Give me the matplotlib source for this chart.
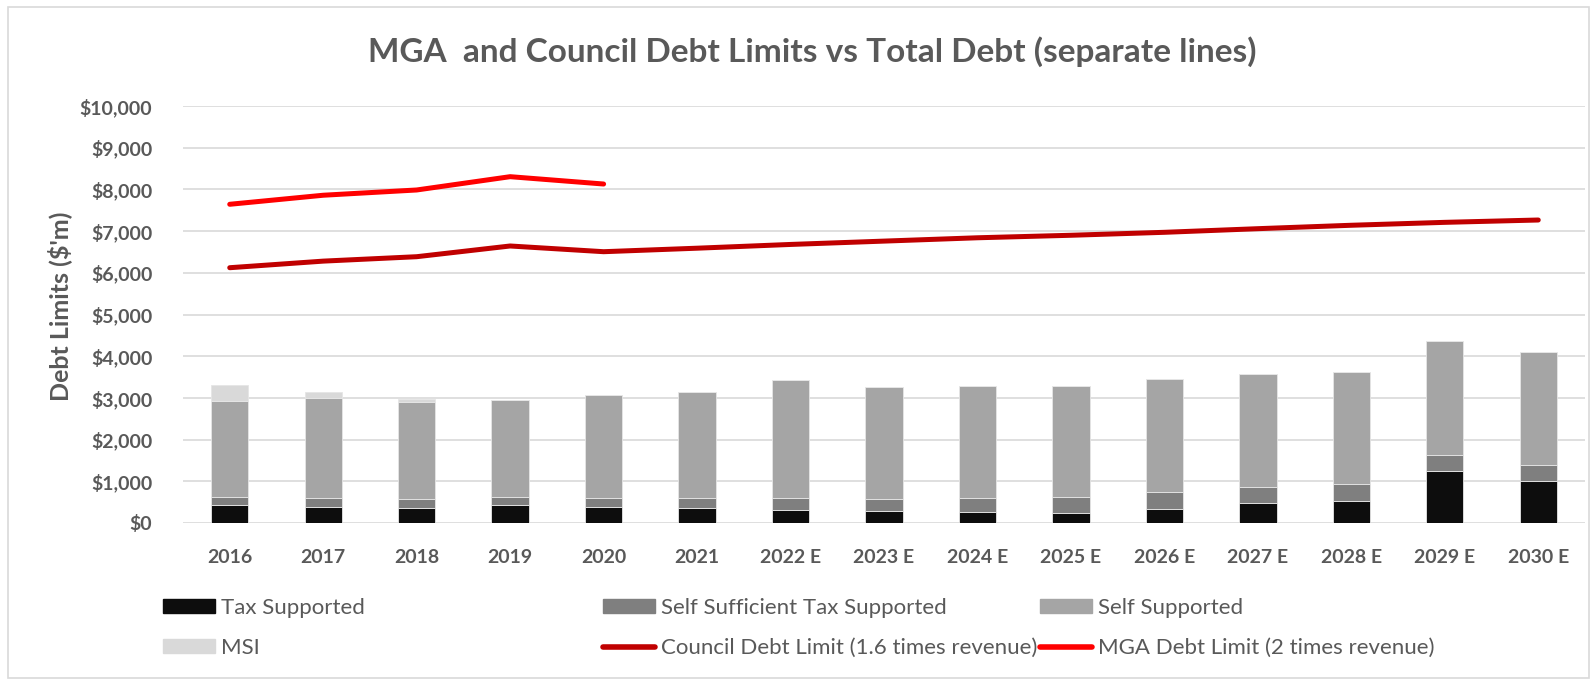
import numpy as np
import matplotlib
matplotlib.use("Agg")
import matplotlib.pyplot as plt
from matplotlib.patches import Patch, Rectangle
from matplotlib.lines import Line2D
from matplotlib.ticker import FuncFormatter

plt.rcParams['font.family'] = ['Lato', 'DejaVu Sans']

# Debt by category ($'m)
years = ['2016', '2017', '2018', '2019', '2020', '2021', '2022 E', '2023 E',
         '2024 E', '2025 E', '2026 E', '2027 E', '2028 E', '2029 E', '2030 E']
tax_supported = [430, 391, 360, 439, 391, 367, 319, 295, 271, 247, 343, 487, 535, 1254, 1014]
self_sufficient = [200, 216, 216, 192, 216, 225, 281, 281, 329, 384, 400, 384, 408, 377, 370]
self_supported = [2303, 2391, 2326, 2326, 2455, 2549, 2822, 2685, 2678, 2654, 2703, 2702, 2678, 2726, 2717]
msi = [369, 143, 72, 0, 0, 0, 0, 0, 0, 0, 0, 0, 0, 0, 0]

# Debt limits ($'m)
council_limit = [6122, 6280, 6386, 6643, 6506, 6590, 6680, 6760, 6840, 6900,
                 6971, 7058, 7140, 7210, 7266]
mga_limit = [7643, 7860, 7986, 8305, 8129]

text_grey = '#595959'
c_tax = '#0d0d0d'
c_ss = '#7f7f7f'
c_sup = '#a5a5a5'
c_msi = '#d9d9d9'
c_council = '#c00000'
c_mga = '#ff0000'

W, H = 1595, 681
fig = plt.figure(figsize=(W / 100, H / 100), dpi=100)
ax = fig.add_axes([183 / W, 158 / H, 1402 / W, 417 / H])

x = np.arange(len(years))
bw = 0.4
bottom = np.zeros(len(years))
for vals, col in [(tax_supported, c_tax), (self_sufficient, c_ss),
                  (self_supported, c_sup), (msi, c_msi)]:
    ax.bar(x, vals, bw, bottom=bottom, color=col, edgecolor='#e6e6e6',
           linewidth=0.6, zorder=2)
    bottom += np.array(vals)

ax.plot(x, council_limit, color=c_council, lw=3.6, solid_capstyle='round', zorder=3)
ax.plot(x[:len(mga_limit)], mga_limit, color=c_mga, lw=3.6,
        solid_capstyle='round', zorder=3)

ax.set_xlim(-0.5, len(years) - 0.5)
ax.set_ylim(0, 10000)
ax.set_yticks(np.arange(0, 10001, 1000))
ax.yaxis.set_major_formatter(FuncFormatter(lambda v, p: f'${v:,.0f}'))
ax.set_xticks(x)
ax.set_xticklabels(years)
ax.grid(axis='y', color='#d9d9d9', lw=1.2, zorder=0)
ax.set_axisbelow(True)
for s in ax.spines.values():
    s.set_visible(False)
ax.tick_params(length=0, labelsize=14, labelcolor=text_grey)
ax.tick_params(axis='y', pad=22)
ax.tick_params(axis='x', pad=19)
for lab in ax.get_xticklabels() + ax.get_yticklabels():
    lab.set_fontweight('bold')

fig.text(812 / W, 1 - 52 / H, 'MGA  and Council Debt Limits vs Total Debt (separate lines)',
         ha='center', va='center', fontsize=24, fontweight='bold', color=text_grey)
fig.text(60 / W, 1 - 306 / H, "Debt Limits ($'m)", rotation=90, ha='center',
         va='center', fontsize=18, fontweight='bold', color=text_grey)

# legend laid out in three columns, two rows
cols = [
    ([Patch(color=c_tax), Patch(color=c_msi)], ['Tax Supported', 'MSI'], 163),
    ([Patch(color=c_ss), Line2D([], [], color=c_council, lw=4, solid_capstyle='round')],
     ['Self Sufficient Tax Supported', 'Council Debt Limit (1.6 times revenue)'], 603),
    ([Patch(color=c_sup), Line2D([], [], color=c_mga, lw=4, solid_capstyle='round')],
     ['Self Supported', 'MGA Debt Limit (2 times revenue)'], 1040),
]
for handles, labels, x0 in cols:
    leg = fig.legend(handles, labels, loc='center left',
                     bbox_to_anchor=(x0 / W, 1 - 628 / H), frameon=False,
                     fontsize=16, handlelength=2.35, handleheight=0.6,
                     handletextpad=0.25, labelspacing=0.9, borderpad=0,
                     borderaxespad=0)
    for t in leg.get_texts():
        t.set_color(text_grey)

fig.patches.append(Rectangle((8 / W, 3 / H), (1589 - 8) / W, (674 - 3) / H,
                             transform=fig.transFigure, fill=False,
                             edgecolor='#d9d9d9', lw=1.2))

fig.savefig('out.png', dpi=100, facecolor='white')
